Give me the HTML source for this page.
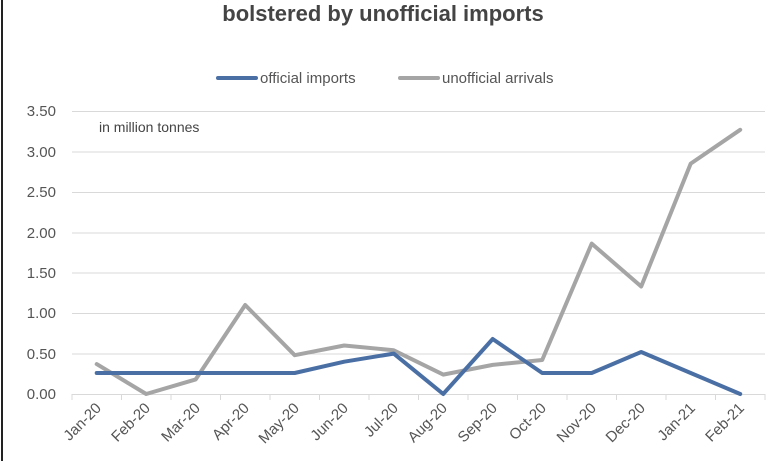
<!DOCTYPE html>
<html><head><meta charset="utf-8"><style>
body{margin:0;background:#fff}
svg{display:block;font-family:"Liberation Sans",sans-serif}
</style></head><body>
<svg width="774" height="461" viewBox="0 0 774 461">
<rect x="1" y="0" width="2" height="461" fill="#222"/>
<text x="383" y="21" text-anchor="middle" font-size="22" font-weight="bold" fill="#444">bolstered by unofficial imports</text>
<line x1="218" y1="78" x2="256" y2="78" stroke="#4a6fa5" stroke-width="4" stroke-linecap="round"/>
<text x="260" y="83" font-size="15" fill="#555">official imports</text>
<line x1="400" y1="78" x2="438" y2="78" stroke="#a5a5a5" stroke-width="4" stroke-linecap="round"/>
<text x="442" y="83" font-size="15" fill="#555">unofficial arrivals</text>
<g stroke="#d9d9d9" stroke-width="1">
<line x1="72" y1="111.5" x2="765" y2="111.5"/>
<line x1="72" y1="152" x2="765" y2="152"/>
<line x1="72" y1="192.5" x2="765" y2="192.5"/>
<line x1="72" y1="233" x2="765" y2="233"/>
<line x1="72" y1="273" x2="765" y2="273"/>
<line x1="72" y1="313.5" x2="765" y2="313.5"/>
<line x1="72" y1="354" x2="765" y2="354"/>
<line x1="72" y1="394.5" x2="765" y2="394.5"/>
</g>
<g font-size="15" fill="#555" text-anchor="end">
<text x="56" y="116">3.50</text><text x="56" y="157">3.00</text><text x="56" y="197">2.50</text><text x="56" y="238">2.00</text><text x="56" y="278">1.50</text><text x="56" y="318">1.00</text><text x="56" y="359">0.50</text><text x="56" y="399">0.00</text>
</g>
<text x="99" y="132" font-size="14" fill="#444">in million tonnes</text>
<g stroke="#d9d9d9"><path d="M72 394v6M121.5 394v6M171 394v6M220.5 394v6M270 394v6M319.5 394v6M369 394v6M418.5 394v6M468 394v6M517.5 394v6M567 394v6M616.5 394v6M666 394v6M715.5 394v6M765 394v6"/></g>
<g font-size="15" fill="#555" text-anchor="end">
<text transform="translate(102,409) rotate(-45)">Jan-20</text>
<text transform="translate(151,409) rotate(-45)">Feb-20</text>
<text transform="translate(201,409) rotate(-45)">Mar-20</text>
<text transform="translate(250,409) rotate(-45)">Apr-20</text>
<text transform="translate(300,409) rotate(-45)">May-20</text>
<text transform="translate(349,409) rotate(-45)">Jun-20</text>
<text transform="translate(399,409) rotate(-45)">Jul-20</text>
<text transform="translate(448,409) rotate(-45)">Aug-20</text>
<text transform="translate(498,409) rotate(-45)">Sep-20</text>
<text transform="translate(547,409) rotate(-45)">Oct-20</text>
<text transform="translate(597,409) rotate(-45)">Nov-20</text>
<text transform="translate(646,409) rotate(-45)">Dec-20</text>
<text transform="translate(696,409) rotate(-45)">Jan-21</text>
<text transform="translate(745,409) rotate(-45)">Feb-21</text>
</g>
<polyline fill="none" stroke="#a5a5a5" stroke-width="4" stroke-linejoin="round" stroke-linecap="round" points="96.7,364.1 146.2,394 195.7,379.4 245.2,305 294.7,355.2 344.2,345.5 393.7,350.3 443.2,374.6 492.7,364.9 542.2,360 591.7,243.6 641.2,286.5 690.7,163.6 740.2,129.8"/>
<polyline fill="none" stroke="#4a6fa5" stroke-width="4" stroke-linejoin="round" stroke-linecap="round" points="96.7,373 146.2,373 195.7,373 245.2,373 294.7,373 344.2,361.7 393.7,353.6 443.2,394 492.7,339 542.2,373 591.7,373 641.2,352 690.7,373 740.2,394"/>
</svg>
</body></html>
